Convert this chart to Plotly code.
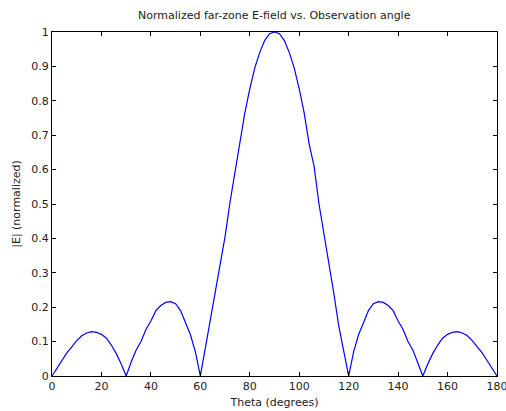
import plotly.graph_objects as go

# observation angle in degrees, 2 degree steps
theta = list(range(0, 181, 2))

# normalized far-zone |E|
e_field = [
    0.0, 0.022, 0.045, 0.067, 0.085, 0.103, 0.117, 0.125, 0.129, 0.127,
    0.121, 0.110, 0.090, 0.065, 0.035, 0.0, 0.040, 0.075, 0.100, 0.135,
    0.160, 0.190, 0.205, 0.214, 0.216, 0.210, 0.190, 0.155, 0.120, 0.070,
    0.0, 0.080, 0.160, 0.250, 0.330, 0.405, 0.505, 0.590, 0.680, 0.765,
    0.835, 0.895, 0.940, 0.975, 0.995, 1.0, 0.995, 0.975, 0.940, 0.895,
    0.835, 0.765, 0.675, 0.610, 0.500, 0.415, 0.330, 0.240, 0.145, 0.070,
    0.0, 0.070, 0.120, 0.155, 0.190, 0.210, 0.216, 0.214, 0.205, 0.190,
    0.160, 0.135, 0.100, 0.075, 0.040, 0.0, 0.035, 0.065, 0.090, 0.110,
    0.121, 0.127, 0.129, 0.125, 0.117, 0.103, 0.085, 0.067, 0.045, 0.022,
    0.0,
]

x_ticks = list(range(0, 181, 20))
y_ticks = [i / 10 for i in range(11)]
y_tick_text = ["0"] + ["%.1f" % v for v in y_ticks[1:-1]] + ["1"]

FONT = dict(family="DejaVu Sans", size=11, color="#222")

fig = go.Figure()
fig.add_trace(go.Scatter(
    x=theta,
    y=e_field,
    mode="lines",
    line=dict(color="#0000ff", width=1.2),
    showlegend=False,
))

axis_style = dict(
    showline=True,
    linecolor="black",
    linewidth=1,
    mirror="ticks",
    ticks="inside",
    ticklen=4,
    tickcolor="black",
    showgrid=False,
    zeroline=False,
    automargin=False,
    tickfont=FONT,
)

fig.update_layout(
    width=506,
    height=411,
    margin=dict(l=52, r=9, t=32, b=35),
    paper_bgcolor="white",
    plot_bgcolor="white",
    title=dict(
        text="Normalized far-zone E-field vs. Observation angle",
        x=0.542, xanchor="center", y=0.963, yanchor="middle",
        font=FONT,
    ),
    xaxis=dict(
        range=[0, 180],
        tickvals=x_ticks,
        ticklabeloverflow="allow",
        title=dict(text="Theta (degrees)", standoff=6, font=FONT),
        **axis_style,
    ),
    yaxis=dict(
        range=[0, 1],
        tickvals=y_ticks,
        ticktext=y_tick_text,
        title=dict(text="|E| (normalized)", standoff=8, font=FONT),
        **axis_style,
    ),
)

# drop the default 8px body margin so the figure sits at the page corner
fig.write_html("out.html", config={"displayModeBar": False},
               post_script="document.body.style.margin='0';")
